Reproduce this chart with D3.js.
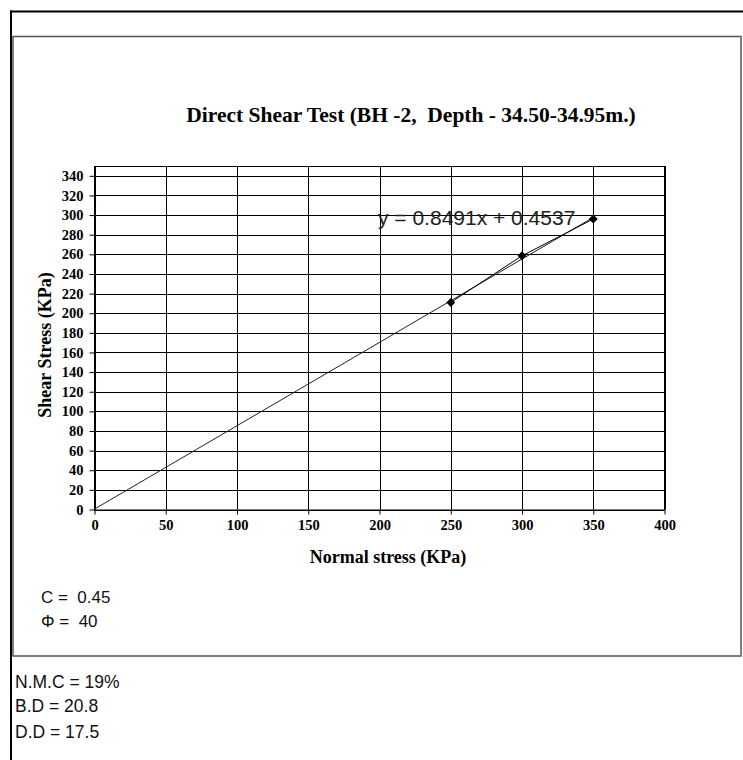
<!DOCTYPE html>
<html>
<head>
<meta charset="utf-8">
<script src="https://cdn.jsdelivr.net/npm/d3@7"></script>
<style>
  html, body { margin: 0; padding: 0; background: #fff; }
  svg { display: block; }
  .serif { font-family: "Times New Roman", "Liberation Serif", serif; font-weight: bold; }
  .sans { font-family: Arial, "Liberation Sans", sans-serif; }
</style>
</head>
<body>
<div id="chart-container"></div>
<script>
// data
const normalStress = [250, 300, 350];
const shearStress = [211, 258.5, 296];
const slope = 0.8491;
const intercept = 0.4537;
const xTicks = [0, 50, 100, 150, 200, 250, 300, 350, 400];
const yTicks = d3.range(0, 341, 20);
const notesInBox = ["C =  0.45", "\u03A6 =  40"];
const notesBelow = ["N.M.C = 19%", "B.D = 20.8", "D.D = 17.5"];

const W = 743, H = 760;
const plot = { left: 94.5, right: 664.5, top: 166, bottom: 509.5 };

const svg = d3
  .select("#chart-container")
  .append("svg")
  .attr("width", W)
  .attr("height", H);

// page frame lines
svg.append("line")
  .attr("x1", 10).attr("y1", 11.5).attr("x2", W).attr("y2", 11.5)
  .attr("stroke", "#000").attr("stroke-width", 2);
svg.append("line")
  .attr("x1", 11).attr("y1", 10.5).attr("x2", 11).attr("y2", H)
  .attr("stroke", "#000").attr("stroke-width", 2);

// chart box
svg.append("rect")
  .attr("x", 13).attr("y", 36.5)
  .attr("width", 728).attr("height", 619.5)
  .attr("fill", "none")
  .attr("stroke", "#555")
  .attr("stroke-width", 1.5);

// scales
const x = d3.scaleLinear().domain([0, 400]).range([plot.left, plot.right]);
const y = d3.scaleLinear().domain([0, 350]).range([plot.bottom, plot.top]);

// grid
svg.append("g")
  .selectAll("line")
  .data(yTicks)
  .enter()
  .append("line")
  .attr("x1", plot.left).attr("x2", plot.right)
  .attr("y1", (d) => Math.round(y(d)) + 0.5)
  .attr("y2", (d) => Math.round(y(d)) + 0.5)
  .attr("stroke", "#000");
svg.append("g")
  .selectAll("line")
  .data(xTicks)
  .enter()
  .append("line")
  .attr("y1", plot.top).attr("y2", plot.bottom)
  .attr("x1", (d) => Math.round(x(d)) + 0.5)
  .attr("x2", (d) => Math.round(x(d)) + 0.5)
  .attr("stroke", "#000");

// plot border
svg.append("rect")
  .attr("x", plot.left).attr("y", plot.top + 0.5)
  .attr("width", plot.right - plot.left)
  .attr("height", plot.bottom - plot.top)
  .attr("fill", "none")
  .attr("stroke", "#000");

// axes
const xAxis = d3.axisBottom(x).tickValues(xTicks).tickSize(5).tickPadding(5);
svg.append("g")
  .attr("transform", `translate(0, ${plot.bottom})`)
  .call(xAxis)
  .call((g) => g.select(".domain").remove())
  .call((g) => g.selectAll("line").attr("stroke", "#000"))
  .call((g) => g.selectAll("text")
    .attr("class", "serif")
    .style("font-size", "14.5px")
    .attr("fill", "#000"));

const yAxis = d3.axisLeft(y).tickValues(yTicks).tickSize(5).tickPadding(6);
svg.append("g")
  .attr("transform", `translate(${plot.left}, 0)`)
  .call(yAxis)
  .call((g) => g.select(".domain").remove())
  .call((g) => g.selectAll("line").attr("stroke", "#000"))
  .call((g) => g.selectAll("text")
    .attr("class", "serif")
    .style("font-size", "14.5px")
    .attr("fill", "#000"));

// trendline
svg.append("line")
  .attr("x1", x(0)).attr("y1", y(intercept))
  .attr("x2", x(350)).attr("y2", y(slope * 350 + intercept))
  .attr("stroke", "#222")
  .attr("stroke-width", 1);

// data line and markers
const points = normalStress.map((d, i) => [d, shearStress[i]]);
svg.append("path")
  .datum(points)
  .attr("d", d3.line().x((d) => x(d[0])).y((d) => y(d[1])))
  .attr("fill", "none")
  .attr("stroke", "#000")
  .attr("stroke-width", 1);
svg.append("g")
  .selectAll("path")
  .data(points)
  .enter()
  .append("path")
  .attr("d", d3.symbol(d3.symbolSquare, 40))
  .attr("transform", (d) => `translate(${x(d[0])}, ${y(d[1])}) rotate(45)`)
  .attr("fill", "#000");

// equation
svg.append("text")
  .attr("class", "sans")
  .attr("x", 378).attr("y", 225)
  .style("font-size", "21px")
  .attr("fill", "#222")
  .text(`y = ${slope}x + ${intercept}`);

// titles
svg.append("text")
  .attr("class", "serif")
  .attr("x", 411).attr("y", 122)
  .attr("text-anchor", "middle")
  .style("font-size", "21.5px")
  .style("white-space", "pre")
  .text("Direct Shear Test (BH -2,  Depth - 34.50-34.95m.)");

svg.append("text")
  .attr("class", "serif")
  .attr("x", 388).attr("y", 563)
  .attr("text-anchor", "middle")
  .style("font-size", "18px")
  .text("Normal stress (KPa)");

svg.append("text")
  .attr("class", "serif")
  .attr("transform", "translate(51, 345) rotate(-90)")
  .attr("text-anchor", "middle")
  .style("font-size", "18px")
  .text("Shear Stress (KPa)");

// notes
svg.append("g")
  .selectAll("text")
  .data(notesInBox)
  .enter()
  .append("text")
  .attr("class", "sans")
  .attr("x", 41)
  .attr("y", (d, i) => 603 + i * 24)
  .style("font-size", "17px")
  .style("white-space", "pre")
  .attr("fill", "#111")
  .text((d) => d);

svg.append("g")
  .selectAll("text")
  .data(notesBelow)
  .enter()
  .append("text")
  .attr("class", "sans")
  .attr("x", 15)
  .attr("y", (d, i) => [688, 712, 738][i])
  .style("font-size", "17.5px")
  .attr("fill", "#111")
  .text((d) => d);
</script>
</body>
</html>
